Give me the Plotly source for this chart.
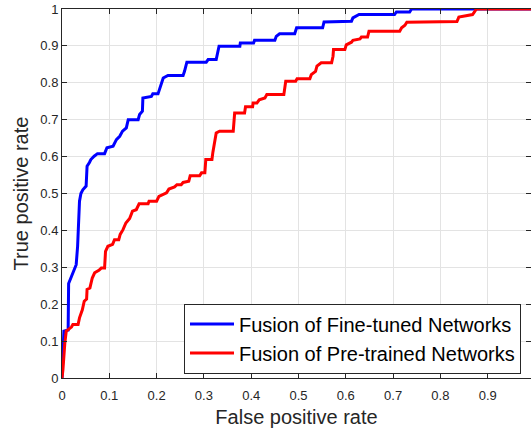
import plotly.graph_objects as go

# ROC curve vertices
fine_tuned_fpr = [0, 0.002, 0.004, 0.013, 0.014, 0.020, 0.026, 0.030, 0.033, 0.035, 0.037, 0.040,
                  0.044, 0.051, 0.053, 0.058, 0.061, 0.068, 0.075, 0.090, 0.093, 0.095, 0.108,
                  0.115, 0.122, 0.128, 0.136, 0.140, 0.161, 0.164, 0.170, 0.171, 0.189, 0.192,
                  0.203, 0.207, 0.214, 0.224, 0.256, 0.259, 0.264, 0.305, 0.309, 0.326, 0.332,
                  0.376, 0.377, 0.405, 0.407, 0.450, 0.453, 0.460, 0.492, 0.496, 0.551, 0.554,
                  0.612, 0.615, 0.628, 0.703, 0.707, 0.735, 0.739, 1.0]
fine_tuned_tpr = [0, 0.100, 0.127, 0.130, 0.256, 0.275, 0.294, 0.307, 0.357, 0.429, 0.479, 0.500,
                  0.510, 0.520, 0.574, 0.584, 0.592, 0.601, 0.608, 0.608, 0.619, 0.624, 0.628,
                  0.646, 0.655, 0.669, 0.678, 0.700, 0.700, 0.714, 0.723, 0.759, 0.763, 0.770,
                  0.770, 0.786, 0.813, 0.820, 0.820, 0.831, 0.856, 0.856, 0.863, 0.863, 0.899,
                  0.899, 0.908, 0.908, 0.915, 0.915, 0.926, 0.933, 0.933, 0.949, 0.949, 0.965,
                  0.967, 0.976, 0.985, 0.985, 0.992, 0.992, 1.0, 1.0]

pre_trained_fpr = [0, 0.002, 0.006, 0.009, 0.013, 0.020, 0.023, 0.034, 0.037, 0.043, 0.047, 0.052,
                   0.053, 0.059, 0.064, 0.069, 0.078, 0.083, 0.090, 0.092, 0.097, 0.107, 0.111,
                   0.120, 0.123, 0.129, 0.135, 0.143, 0.149, 0.157, 0.163, 0.182, 0.184, 0.200,
                   0.205, 0.221, 0.226, 0.238, 0.243, 0.252, 0.256, 0.268, 0.271, 0.291, 0.295,
                   0.302, 0.304, 0.317, 0.319, 0.323, 0.326, 0.333, 0.362, 0.365, 0.386, 0.388,
                   0.403, 0.404, 0.412, 0.417, 0.429, 0.433, 0.469, 0.473, 0.494, 0.497, 0.524,
                   0.527, 0.536, 0.539, 0.548, 0.570, 0.573, 0.574, 0.598, 0.601, 0.612, 0.615,
                   0.630, 0.633, 0.646, 0.649, 0.714, 0.718, 0.725, 0.729, 0.835, 0.839, 0.868,
                   0.872, 0.876, 1.0]
pre_trained_tpr = [0, 0.023, 0.095, 0.127, 0.131, 0.138, 0.145, 0.145, 0.163, 0.185, 0.208, 0.214,
                   0.240, 0.244, 0.271, 0.285, 0.292, 0.298, 0.298, 0.343, 0.357, 0.362, 0.375,
                   0.375, 0.389, 0.402, 0.420, 0.432, 0.452, 0.456, 0.472, 0.472, 0.479, 0.479,
                   0.492, 0.502, 0.512, 0.518, 0.524, 0.524, 0.530, 0.533, 0.548, 0.548, 0.556,
                   0.556, 0.592, 0.592, 0.612, 0.646, 0.664, 0.669, 0.669, 0.718, 0.718, 0.735,
                   0.735, 0.745, 0.745, 0.754, 0.759, 0.768, 0.768, 0.804, 0.804, 0.811, 0.811,
                   0.822, 0.831, 0.845, 0.854, 0.854, 0.872, 0.890, 0.890, 0.903, 0.910, 0.915,
                   0.919, 0.924, 0.924, 0.940, 0.940, 0.949, 0.956, 0.964, 0.966, 0.978, 0.985,
                   0.992, 1.0, 1.0]

series_names = ["Fusion of Fine-tuned Networks", "Fusion of Pre-trained Networks"]
x_title = "False positive rate"
y_title = "True positive rate"

FONT = "Liberation Sans, Arial, sans-serif"
AX = "#262626"
GRID = "#e3e3e3"

fig = go.Figure()
fig.add_trace(go.Scatter(x=fine_tuned_fpr, y=fine_tuned_tpr, mode="lines",
                         name=series_names[0], line=dict(color="#0000ff", width=3)))
fig.add_trace(go.Scatter(x=pre_trained_fpr, y=pre_trained_tpr, mode="lines",
                         name=series_names[1], line=dict(color="#ff0000", width=3)))
# helper (empty) trace for the right-hand tick marks
fig.add_trace(go.Scatter(x=[], y=[], yaxis="y2", showlegend=False, hoverinfo="skip"))

XMAX = 469 / 473

fig.update_layout(
    width=531, height=432,
    margin=dict(l=62, r=0, t=9, b=54),
    paper_bgcolor="white", plot_bgcolor="white",
    font=dict(family=FONT, color=AX, size=13),
    showlegend=True,
    legend=dict(
        x=(521 - 62) / 469, xanchor="right",
        y=(378.4 - 339) / 369, yanchor="middle",
        bgcolor="white", bordercolor=AX, borderwidth=1,
        font=dict(family=FONT, size=20, color="#000000"),
        tracegroupgap=0, itemwidth=44,
    ),
    xaxis=dict(
        range=[0, XMAX], tick0=0, dtick=0.1,
        ticks="inside", ticklen=5, tickcolor=AX, tickwidth=1,
        showline=True, linecolor=AX, linewidth=1, mirror="ticks",
        showgrid=True, gridcolor=GRID, gridwidth=1, zeroline=False,
        tickfont=dict(size=13, color=AX), ticklabelstandoff=5,
        title=dict(text=x_title, font=dict(size=20, color=AX), standoff=8),
    ),
    yaxis=dict(
        range=[0, 1], tick0=0, dtick=0.1,
        ticks="inside", ticklen=5, tickcolor=AX, tickwidth=1,
        showline=True, linecolor=AX, linewidth=1, mirror=False,
        showgrid=True, gridcolor=GRID, gridwidth=1, zeroline=False,
        tickfont=dict(size=13, color=AX),
        title=dict(text=y_title, font=dict(size=20, color=AX), standoff=6),
    ),
    yaxis2=dict(
        overlaying="y", side="right", range=[0, 1], tick0=0, dtick=0.1,
        ticks="inside", ticklen=5, tickcolor=AX, tickwidth=1,
        showticklabels=False, showgrid=False, showline=False, zeroline=False,
    ),
)

fig.write_html("out.html")
